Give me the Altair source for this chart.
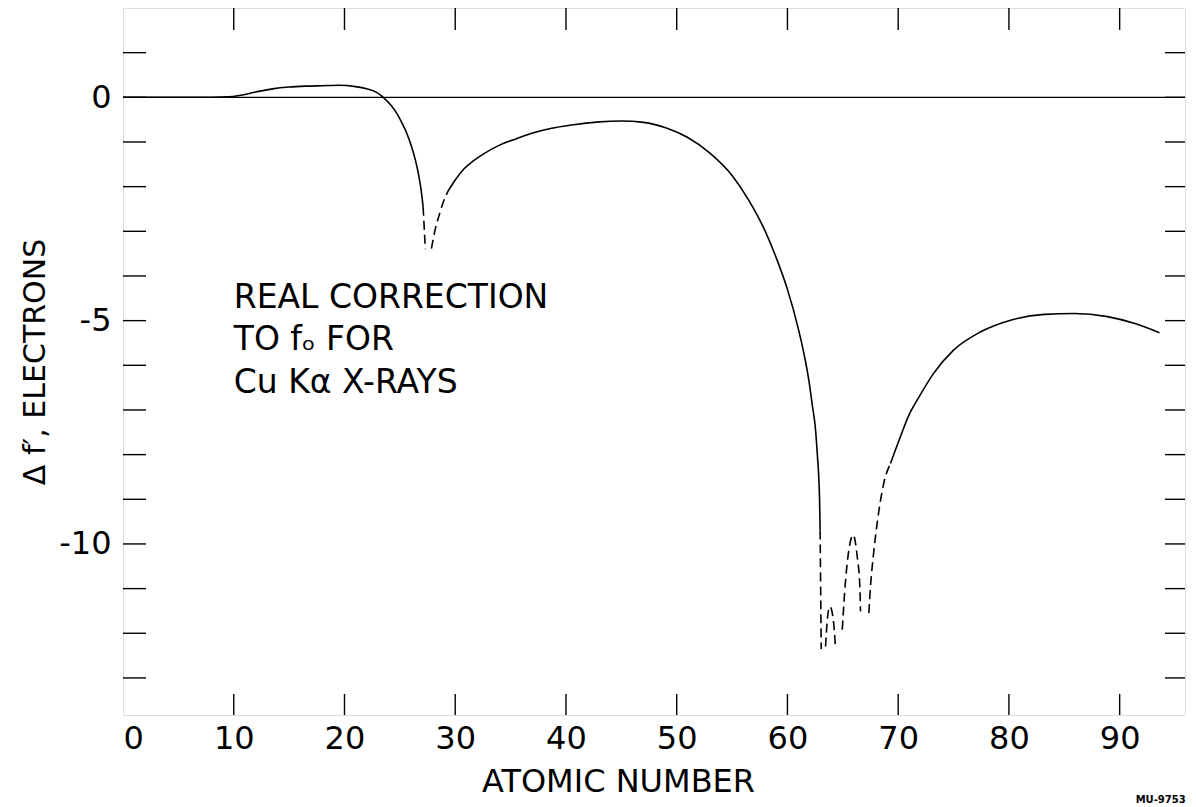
import altair as alt
import pandas as pd

# ---- data ----
# solid branch, Z = 0 .. 27.1
s1_z = [0, 5, 8, 9.5, 10.5, 12, 13.5, 15, 16.5, 18, 19.5, 21, 22, 22.9, 23.5, 24.2, 24.75, 25.2, 25.65, 26.0, 26.4, 26.7, 26.9, 27.1]
s1_v = [0, 0, 0, 0.01, 0.04, 0.12, 0.19, 0.23, 0.25, 0.26, 0.27, 0.24, 0.19, 0.11, 0, -0.18, -0.37, -0.58, -0.82, -1.06, -1.4, -1.74, -2.04, -2.45]
# dashed, into the first dip
d1_z = [27.1, 27.2, 27.3]
d1_v = [-2.45, -2.92, -3.4]
# dashed, out of the first dip
d2_z = [27.85, 28.15, 28.5, 28.9, 29.4]
d2_v = [-3.39, -3.0, -2.68, -2.36, -2.08]
# solid, second branch
s2_z = [29.4, 30.0, 30.8, 31.6, 32.6, 34.0, 35.6, 37.0, 38.6, 40.5, 43.0, 45.0, 47.0, 49.0, 51.0, 53.0, 55.0, 56.5, 58.0, 59.0, 60.0, 61.0, 61.5, 61.93, 62.25, 62.54, 62.7, 62.84, 62.9, 62.95]
s2_v = [-2.08, -1.85, -1.6, -1.43, -1.26, -1.07, -0.92, -0.8, -0.7, -0.62, -0.55, -0.53, -0.56, -0.68, -0.9, -1.25, -1.75, -2.3, -3.0, -3.6, -4.3, -5.2, -5.75, -6.33, -6.9, -7.45, -8.0, -8.57, -9.0, -9.7]
# dashed pieces around the deep dips
d3_z = [62.95, 63.0, 63.05]
d3_v = [-9.7, -11.0, -12.35]
d4_z = [63.44, 63.6, 63.83, 64.14, 64.32]
d4_v = [-12.3, -11.7, -11.4, -11.7, -12.26]
d5_z = [64.95, 65.25, 65.55, 65.94, 66.3, 66.54, 66.6]
d5_v = [-11.92, -10.81, -10.13, -9.8, -10.28, -10.96, -11.51]
d6_z = [67.35, 67.5, 67.75, 68.1, 68.7, 69.3]
d6_v = [-11.55, -10.95, -10.28, -9.54, -8.64, -8.2]
# solid, last branch
s3_z = [69.3, 70.2, 71.0, 71.9, 73.2, 75.0, 77.45, 80.15, 83.2, 85.9, 88.9, 91.3, 93.6]
s3_v = [-8.2, -7.6, -7.1, -6.7, -6.18, -5.66, -5.25, -4.99, -4.86, -4.84, -4.91, -5.06, -5.27]

x_tick_values = [0, 10, 20, 30, 40, 50, 60, 70, 80, 90]
x_inner_ticks = [10, 20, 30, 40, 50, 60, 70, 80, 90]
y_label_values = [0, -5, -10]
y_inner_ticks = [1, 0, -1, -2, -3, -4, -5, -6, -7, -8, -9, -10, -11, -12, -13]

note_lines = ["REAL CORRECTION", "TO f\u2092 FOR", "Cu K\u03b1 X-RAYS"]
note_z = [10.0, 10.0, 10.0]
note_v = [-4.5, -5.44, -6.4]

X_DOMAIN = [0, 95.9]
Y_DOMAIN = [-13.83, 2]
W, H = 1062, 707
FONT = "DejaVu Sans"


def seg_frame(pairs):
    rows = []
    for i, (zs, vs) in enumerate(pairs):
        for z, v in zip(zs, vs):
            rows.append({"z": z, "v": v, "seg": i})
    return pd.DataFrame(rows)


solid_df = seg_frame([(s1_z, s1_v), (s2_z, s2_v), (s3_z, s3_v)])
dashed_df = seg_frame([(d1_z, d1_v), (d2_z, d2_v), (d3_z, d3_v), (d4_z, d4_v), (d5_z, d5_v), (d6_z, d6_v)])

xs = alt.Scale(domain=X_DOMAIN, nice=False, zero=False)
ys = alt.Scale(domain=Y_DOMAIN, nice=False, zero=False)

x_axis = alt.Axis(values=x_tick_values, ticks=False, domain=False, grid=False,
                  labelFont=FONT, labelFontSize=32, labelColor="black", labelPadding=8,
                  title="ATOMIC NUMBER", titleFont=FONT, titleFontSize=32,
                  titleFontWeight="normal", titleColor="black",
                  titleX=495, titleY=66, titleAlign="center", titleBaseline="middle")
y_axis = alt.Axis(values=y_label_values, ticks=False, domain=False, grid=False,
                  labelFont=FONT, labelFontSize=32, labelColor="black", labelPadding=12,
                  labelExpr="datum.value < 0 ? '-' + abs(datum.value) : datum.label",
                  title="\u0394 f\u2032, ELECTRONS", titleFont=FONT, titleFontSize=30,
                  titleFontWeight="normal", titleColor="black", titlePadding=8)

solid = alt.Chart(solid_df).mark_line(color="black", strokeWidth=1.6, interpolate="monotone").encode(
    x=alt.X("z:Q", scale=xs, axis=x_axis),
    y=alt.Y("v:Q", scale=ys, axis=y_axis),
    detail="seg:N",
)
dashed = alt.Chart(dashed_df).mark_line(color="black", strokeWidth=1.6, strokeDash=[9, 5],
                                        interpolate="monotone").encode(
    x=alt.X("z:Q", scale=xs), y=alt.Y("v:Q", scale=ys), detail="seg:N")

zero_line = alt.Chart(pd.DataFrame({"v": [0]})).mark_rule(color="black", strokeWidth=1.3).encode(
    y=alt.Y("v:Q", scale=ys))

yt = pd.DataFrame({"v": y_inner_ticks})
left_ticks = alt.Chart(yt).mark_rule(color="black", strokeWidth=1.4).encode(
    y=alt.Y("v:Q", scale=ys), x=alt.value(0), x2=alt.value(23))
right_ticks = alt.Chart(yt).mark_rule(color="black", strokeWidth=1.4).encode(
    y=alt.Y("v:Q", scale=ys), x=alt.value(W - 20), x2=alt.value(W))

xt = pd.DataFrame({"z": x_inner_ticks})
bottom_ticks = alt.Chart(xt).mark_rule(color="black", strokeWidth=1.4).encode(
    x=alt.X("z:Q", scale=xs), y=alt.value(H - 21), y2=alt.value(H))
top_ticks = alt.Chart(xt).mark_rule(color="black", strokeWidth=1.4).encode(
    x=alt.X("z:Q", scale=xs), y=alt.value(0), y2=alt.value(22))

notes = alt.Chart(pd.DataFrame({"t": note_lines, "z": note_z, "v": note_v})).mark_text(
    align="left", baseline="middle", font=FONT, fontSize=33, color="black").encode(
    x=alt.X("z:Q", scale=xs), y=alt.Y("v:Q", scale=ys), text="t:N")

chart = alt.layer(solid, dashed, zero_line, left_ticks, right_ticks, bottom_ticks, top_ticks, notes).properties(
    width=W, height=H,
    autosize=alt.AutoSizeParams(type="none"),
    padding={"left": 115, "top": 0, "right": 3, "bottom": 92},
    title=alt.TitleParams("MU-9753", orient="bottom", anchor="end", fontSize=10,
                          fontWeight="bold", font=FONT, color="black", offset=-2),
).configure_view(stroke="black", strokeWidth=1.6).configure(background="white")

chart.save("out.html", embed_options={"renderer": "svg", "actions": False})
